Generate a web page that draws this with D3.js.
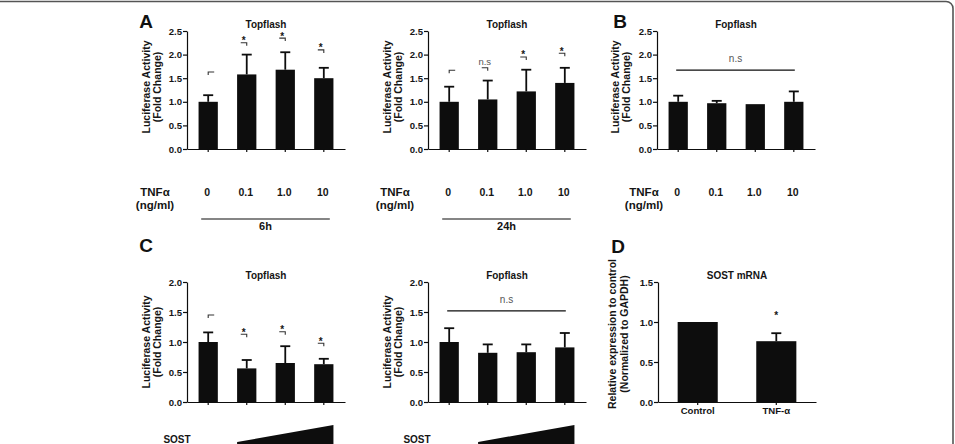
<!DOCTYPE html>
<html>
<head>
<meta charset="utf-8">
<script src="https://cdn.jsdelivr.net/npm/d3@7"></script>
<style>
  body { margin: 0; background: #fff; }
  svg { display: block; font-family: "Liberation Sans", Arial, Helvetica, sans-serif; }
</style>
</head>
<body>
<script>
// ---- data ----
const doses = ["0", "0.1", "1.0", "10"];

const top6hMean = [1.0, 1.58, 1.68, 1.5];
const top6hErr  = [0.14, 0.42, 0.37, 0.22];
const top6hSig  = ["ctrl", "*", "*", "*"];
const top6hSigY = [1.63, 2.25, 2.35, 2.1];

const top24hMean = [1.0, 1.05, 1.22, 1.4];
const top24hErr  = [0.32, 0.4, 0.46, 0.32];
const top24hSig  = ["ctrl", "n.s", "*", "*"];
const top24hSigY = [1.67, 1.72, 1.95, 2.03];

const fopTnfMean = [1.0, 0.97, 0.95, 1.0];
const fopTnfErr  = [0.13, 0.05, 0, 0.22];
const fopTnfNsY  = 1.67;

const topSostMean = [1.0, 0.56, 0.65, 0.63];
const topSostErr  = [0.16, 0.14, 0.28, 0.09];
const topSostSig  = ["ctrl", "*", "*", "*"];
const topSostSigY = [1.45, 1.13, 1.17, 0.98];

const fopSostMean = [1.0, 0.82, 0.83, 0.91];
const fopSostErr  = [0.23, 0.14, 0.13, 0.24];
const fopSostNsY  = 1.52;

const mrnaGroups = ["Control", "TNF-\u03b1"];
const mrnaMean   = [1.0, 0.76];
const mrnaErr    = [0, 0.1];
const mrnaSig    = ["", "*"];
const mrnaSigY   = [0, 1.06];

const ticks25 = [0, 0.5, 1.0, 1.5, 2.0, 2.5];
const ticks20 = [0, 0.5, 1.0, 1.5, 2.0];
const ticks15 = [0, 0.5, 1.0, 1.5];

const W = 955, H = 444;
const ink = "#0d0d0d", txt = "#151515";

const svg = d3.select("body").append("svg")
    .attr("width", W).attr("height", H);

// frame (rounded box, only top edge + right corner visible)
svg.append("rect")
    .attr("x", -10).attr("y", 1.5)
    .attr("width", 963).attr("height", 520)
    .attr("rx", 7)
    .attr("fill", "none").attr("stroke", "#555").attr("stroke-width", 1.6);

function panel(o) {
    const g = svg.append("g");
    const x = d3.scaleBand().domain(o.cats).range(o.xr)
        .paddingInner(o.pin).paddingOuter(o.pout);
    const y = d3.scaleLinear().domain([0, o.max]).range(o.yr);
    const bw = x.bandwidth();
    const data = o.cats.map((c, i) => ({ c: c, v: o.mean[i], e: o.err[i], s: o.sig ? o.sig[i] : "", sy: o.sigY ? o.sigY[i] : 0 }));

    // y axis
    const ya = g.append("g")
        .attr("transform", "translate(" + o.xr[0] + ",0)")
        .call(d3.axisLeft(y).tickValues(o.ticks).tickFormat(d3.format(".1f")).tickSize(4).tickSizeOuter(0));
    ya.selectAll("line,path").style("stroke", ink).style("stroke-width", 1.2);
    ya.selectAll("text").attr("fill", txt).style("font-size", "9.6px").style("font-weight", "bold").attr("x", -5);

    // x axis
    const xa = g.append("g")
        .attr("transform", "translate(0," + o.yr[0] + ")")
        .call(d3.axisBottom(x).tickSize(3).tickSizeOuter(0).tickFormat(""));
    xa.selectAll("line,path").style("stroke", ink).style("stroke-width", 1.2);

    // bars
    g.selectAll("rect.bar").data(data).enter().append("rect")
        .attr("x", d => x(d.c)).attr("width", bw)
        .attr("y", d => y(d.v)).attr("height", d => y(0) - y(d.v))
        .attr("fill", ink);

    // error bars (upper only)
    const eb = g.selectAll("g.err").data(data.filter(d => d.e > 0)).enter().append("g");
    eb.append("line")
        .attr("x1", d => x(d.c) + bw / 2).attr("x2", d => x(d.c) + bw / 2)
        .attr("y1", d => y(d.v)).attr("y2", d => y(d.v + d.e))
        .attr("stroke", ink).attr("stroke-width", 1.8);
    eb.append("line")
        .attr("x1", d => x(d.c) + bw / 2 - 5).attr("x2", d => x(d.c) + bw / 2 + 5)
        .attr("y1", d => y(d.v + d.e)).attr("y2", d => y(d.v + d.e))
        .attr("stroke", ink).attr("stroke-width", 1.8);

    // significance marks
    data.forEach(d => {
        if (!d.s) return;
        const cx = x(d.c) + bw / 2, yy = y(d.sy);
        if (d.s === "ctrl") {
            g.append("path").attr("d", "M" + cx + "," + (yy + 3) + "V" + yy + "H" + (cx + 6))
                .attr("fill", "none").attr("stroke", "#333").attr("stroke-width", 1.1);
        } else if (o.bracket !== false) {
            g.append("path").attr("d", "M" + (cx - 6) + "," + yy + "H" + cx + "V" + (yy + 3))
                .attr("fill", "none").attr("stroke", "#333").attr("stroke-width", 1.1);
            g.append("text").attr("x", cx - 3).attr("y", d.s === "*" ? yy + 1.5 : yy - 3)
                .attr("text-anchor", "middle").attr("fill", d.s === "*" ? txt : "#555")
                .style("font-size", d.s === "*" ? "10px" : "9.5px")
                .style("font-weight", d.s === "*" ? "bold" : "normal")
                .text(d.s);
        } else {
            g.append("text").attr("x", cx).attr("y", yy + 1.5)
                .attr("text-anchor", "middle").attr("fill", txt)
                .style("font-size", "10px").style("font-weight", "bold").text(d.s);
        }
    });

    // n.s line over whole group
    if (o.nsY !== undefined) {
        const c0 = x(o.cats[0]) + bw / 2 - 2, c1 = x(o.cats[o.cats.length - 1]) + bw / 2 + 1;
        g.append("line").attr("x1", c0).attr("x2", c1)
            .attr("y1", y(o.nsY)).attr("y2", y(o.nsY))
            .attr("stroke", ink).attr("stroke-width", 1.3);
        g.append("text").attr("x", (c0 + c1) / 2).attr("y", y(o.nsY) - 8)
            .attr("text-anchor", "middle").attr("fill", "#555")
            .style("font-size", "10px").text("n.s");
    }

    // title
    g.append("text").attr("x", (o.xr[0] + o.xr[1]) / 2).attr("y", o.yr[1] - 3)
        .attr("text-anchor", "middle").attr("fill", txt)
        .style("font-size", "10px").style("font-weight", "bold").text(o.title);

    // y label (two lines)
    o.ylab.forEach((t, i) => {
        g.append("text")
            .attr("transform", "translate(" + o.labelX[i] + "," + o.labelY + ") rotate(-90)")
            .attr("text-anchor", "middle").attr("fill", txt)
            .style("font-size", "10.5px").style("font-weight", "bold").text(t);
    });

    // category labels under the axis
    if (o.xlabels) {
        g.selectAll("text.xl").data(o.cats).enter().append("text")
            .attr("x", d => x(d) + bw / 2).attr("y", o.xlabY)
            .attr("text-anchor", "middle").attr("fill", txt)
            .style("font-size", "9.6px").style("font-weight", "bold").text(d => d);
    }
    return { x: x, y: y, bw: bw };
}

const lucLab = ["Luciferase Activity", "(Fold Change)"];

const a1 = panel({ cats: doses, mean: top6hMean, err: top6hErr, sig: top6hSig, sigY: top6hSigY,
    xr: [187, 345], yr: [149, 31], max: 2.5, ticks: ticks25, pin: 0.5, pout: 0.3,
    title: "Topflash", ylab: lucLab, labelX: [150, 161], labelY: 87 });
const a2 = panel({ cats: doses, mean: top24hMean, err: top24hErr, sig: top24hSig, sigY: top24hSigY,
    xr: [428, 586], yr: [149, 31], max: 2.5, ticks: ticks25, pin: 0.5, pout: 0.3,
    title: "Topflash", ylab: lucLab, labelX: [391, 402], labelY: 87 });
const b1 = panel({ cats: doses, mean: fopTnfMean, err: fopTnfErr, nsY: fopTnfNsY,
    xr: [657, 815], yr: [149, 31], max: 2.5, ticks: ticks25, pin: 0.5, pout: 0.3,
    title: "Fopflash", ylab: lucLab, labelX: [619, 630], labelY: 87 });
const c1 = panel({ cats: doses, mean: topSostMean, err: topSostErr, sig: topSostSig, sigY: topSostSigY,
    xr: [187, 345], yr: [402, 282], max: 2.0, ticks: ticks20, pin: 0.5, pout: 0.3,
    title: "Topflash", ylab: lucLab, labelX: [150, 161], labelY: 342 });
const c2 = panel({ cats: doses, mean: fopSostMean, err: fopSostErr, nsY: fopSostNsY,
    xr: [428, 586], yr: [402, 282], max: 2.0, ticks: ticks20, pin: 0.5, pout: 0.3,
    title: "Fopflash", ylab: lucLab, labelX: [391, 402], labelY: 342 });
const d1 = panel({ cats: mrnaGroups, mean: mrnaMean, err: mrnaErr, sig: mrnaSig, sigY: mrnaSigY, bracket: false,
    xr: [658, 816], yr: [402, 282], max: 1.5, ticks: ticks15, pin: 0.49, pout: 0.25,
    title: "SOST mRNA", ylab: ["Relative expression to control", "(Normalized to GAPDH)"],
    labelX: [616, 628], labelY: 334, xlabels: true, xlabY: 414 });

// TNFα dose rows
function doseRow(p, lx, timeLabel) {
    const t = svg.append("g");
    t.append("text").attr("x", lx).attr("y", 196).attr("text-anchor", "middle").attr("fill", txt)
        .style("font-size", "11.5px").style("font-weight", "bold").text("TNF\u03b1");
    t.append("text").attr("x", lx).attr("y", 209).attr("text-anchor", "middle").attr("fill", txt)
        .style("font-size", "11.5px").style("font-weight", "bold").text("(ng/ml)");
    t.selectAll("text.dose").data(doses).enter().append("text")
        .attr("x", d => p.x(d) + p.bw / 2 - 1).attr("y", 196)
        .attr("text-anchor", "middle").attr("fill", txt)
        .style("font-size", "10.5px").style("font-weight", "bold").text(d => d);
    if (timeLabel) {
        const x0 = p.x(doses[0]) + p.bw / 2 - 7, x1 = p.x(doses[3]) + p.bw / 2 + 6;
        t.append("line").attr("x1", x0).attr("x2", x1).attr("y1", 219).attr("y2", 219)
            .attr("stroke", ink).attr("stroke-width", 1.2);
        t.append("text").attr("x", (x0 + x1) / 2).attr("y", 230).attr("text-anchor", "middle").attr("fill", txt)
            .style("font-size", "11px").style("font-weight", "bold").text(timeLabel);
    }
}
doseRow(a1, 155, "6h");
doseRow(a2, 395, "24h");
doseRow(b1, 644, null);

// SOST wedges
function wedge(p, lx) {
    const x0 = p.x(doses[1]), x1 = p.x(doses[3]) + p.bw;
    svg.append("path")
        .attr("d", "M" + x0 + ",442L" + x1 + ",425L" + x1 + ",450L" + x0 + ",450Z")
        .attr("fill", ink);
    svg.append("text").attr("x", lx).attr("y", 443).attr("text-anchor", "middle").attr("fill", txt)
        .style("font-size", "10px").style("font-weight", "bold").text("SOST");
}
wedge(c1, 177);
wedge(c2, 417);

// panel letters
[["A", 146, 28], ["B", 620, 28], ["C", 146, 252], ["D", 618, 253]].forEach(l => {
    svg.append("text").attr("x", l[1]).attr("y", l[2]).attr("text-anchor", "middle")
        .attr("fill", "#111").style("font-size", "19px").style("font-weight", "bold").text(l[0]);
});
</script>
</body>
</html>
